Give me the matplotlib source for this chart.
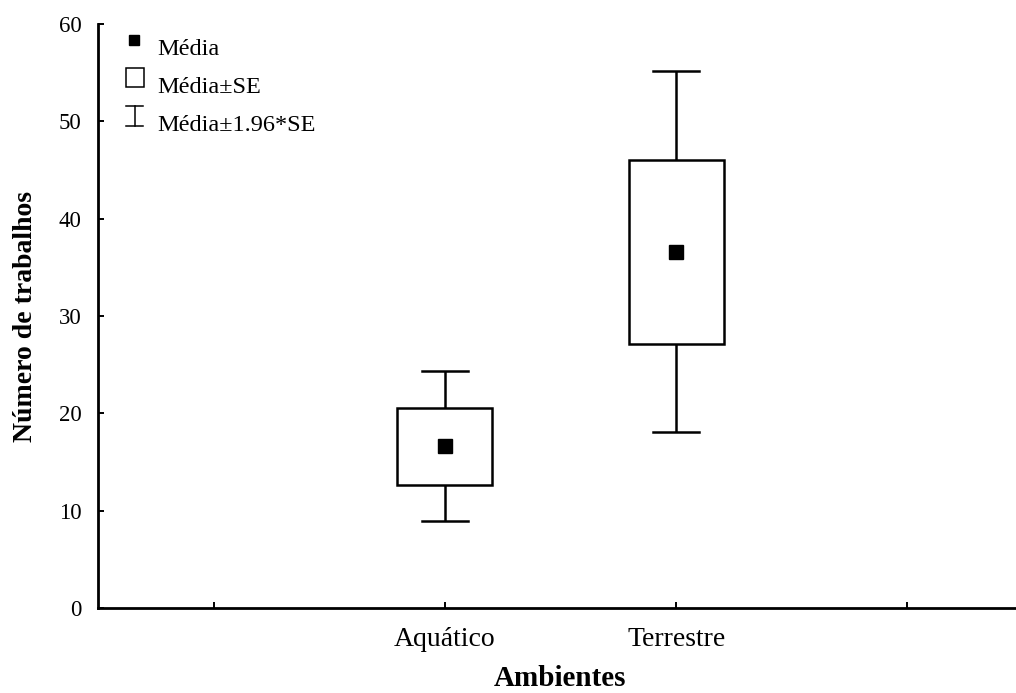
import matplotlib.pyplot as plt
from matplotlib.patches import Rectangle

plt.rcParams['font.family'] = ['Liberation Serif', 'DejaVu Serif']

# Mean and standard error of number of papers per environment
ambientes = ['Aquático', 'Terrestre']
media = [16.6, 36.6]
se = [3.93, 9.45]
posicoes = [1, 2]

fig = plt.figure(figsize=(10.16, 6.93), dpi=100)
# axes run a little past the right edge so the x spine reaches the border
ax = fig.add_axes([98 / 1016, 1 - 608 / 693, (1023 - 98) / 1016, (608 - 24) / 693])

box_w = 0.41
cap_w = 0.2
lw = 1.8

for x, m, s in zip(posicoes, media, se):
    lo, hi = m - s, m + s
    lo2, hi2 = m - 1.96 * s, m + 1.96 * s
    ax.add_patch(Rectangle((x - box_w / 2, lo), box_w, hi - lo,
                           facecolor='white', edgecolor='black', linewidth=lw, zorder=2))
    ax.plot([x, x], [hi, hi2], color='black', lw=lw, solid_capstyle='butt')
    ax.plot([x, x], [lo2, lo], color='black', lw=lw, solid_capstyle='butt')
    ax.plot([x - cap_w / 2, x + cap_w / 2], [hi2, hi2], color='black', lw=lw)
    ax.plot([x - cap_w / 2, x + cap_w / 2], [lo2, lo2], color='black', lw=lw)
    ax.plot(x, m, 's', color='black', markersize=10.5, zorder=3)

ax.set_xlim(-0.5, 3.5)
ax.set_ylim(0, 60)
ax.set_xticks([0, 1, 2, 3])
ax.set_xticklabels(['', ambientes[0], ambientes[1], ''])
ax.set_yticks(range(0, 61, 10))

for side in ['top', 'right']:
    ax.spines[side].set_visible(False)
for side in ['left', 'bottom']:
    ax.spines[side].set_linewidth(2.0)

ax.tick_params(direction='in', length=4, width=1.4)
ax.tick_params(axis='x', labelsize=20, pad=14)
ax.tick_params(axis='y', labelsize=16.5, pad=12)

ax.set_xlabel('Ambientes', fontsize=21, fontweight='bold', labelpad=9)
ax.set_ylabel('Número de trabalhos', fontsize=20, fontweight='bold', labelpad=15)

# Legend drawn by hand in the upper-left corner
ax.plot(-0.344, 58.4, 's', color='black', markersize=7.5)
ax.text(-0.243, 57.4, 'Média', fontsize=17.5, va='center')
ax.add_patch(Rectangle((-0.379, 53.5), 0.078, 2.0, facecolor='white',
                       edgecolor='black', linewidth=1.1))
ax.text(-0.243, 53.5, 'Média±SE', fontsize=17.5, va='center')
ax.plot([-0.342, -0.342], [49.5, 51.6], color='black', lw=1.1)
ax.plot([-0.379, -0.305], [51.6, 51.6], color='black', lw=1.1)
ax.plot([-0.379, -0.305], [49.5, 49.5], color='black', lw=1.1)
ax.text(-0.243, 49.6, 'Média±1.96*SE', fontsize=17.5, va='center')

fig.savefig('out.png', dpi=100)
